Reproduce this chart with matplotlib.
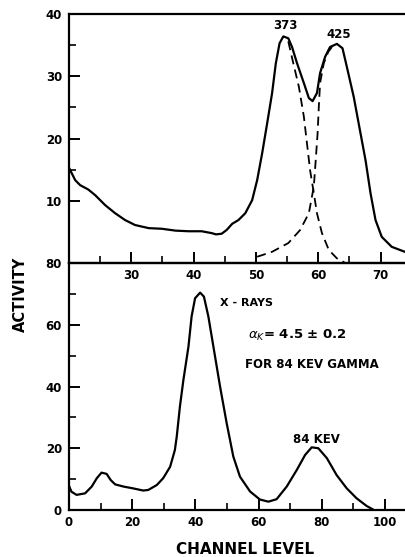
import matplotlib
matplotlib.use("Agg")
import matplotlib.pyplot as plt
from matplotlib.ticker import FixedLocator

# ---- data: upper panel (channels 20-74) ----
top_x = [20.0, 20.2, 21.0, 21.8, 23.1, 24.2, 25.8, 27.4, 29.0, 30.6, 32.8, 34.9, 37.1,
         39.2, 41.3, 42.9, 43.6, 44.5, 45.3, 46.2, 47.2, 48.3, 49.4, 50.2, 51.0, 51.8,
         52.6, 53.2, 53.8, 54.4, 55.2, 55.8, 56.6, 57.7, 58.5, 59.1, 59.8, 60.3, 61.1,
         61.9, 63.0, 63.9, 64.6, 65.7, 66.5, 67.6, 68.4, 69.2, 70.2, 71.8, 73.9, 74.5]
top_y = [15.3, 14.9, 13.3, 12.5, 11.8, 10.9, 9.3, 8.0, 6.9, 6.1, 5.6, 5.5, 5.2,
         5.1, 5.1, 4.8, 4.6, 4.7, 5.3, 6.3, 6.9, 8.0, 10.1, 13.3, 17.6, 22.4,
         27.3, 32.1, 35.3, 36.4, 36.1, 34.7, 32.1, 28.9, 26.5, 26.0, 27.3, 30.5, 33.1,
         34.7, 35.2, 34.5, 31.5, 26.7, 22.4, 16.5, 11.2, 6.9, 4.2, 2.6, 1.8, 1.6]

peak373_x = [55.2, 56.0, 56.9, 57.7, 58.2, 58.7, 59.3, 59.8, 60.6, 61.7, 63.0, 64.2]
peak373_y = [35.6, 32.1, 28.3, 23.5, 19.2, 14.9, 11.2, 8.0, 4.8, 2.1, 0.75, 0.1]

peak425_x = [50.2, 52.6, 55.2, 57.1, 58.5, 59.3, 59.6, 59.9, 60.1, 60.3, 60.9, 61.6, 62.2]
peak425_y = [1.0, 1.8, 3.2, 5.3, 8.0, 12.3, 16.5, 20.8, 25.1, 28.9, 32.1, 33.9, 34.7]

# ---- data: lower panel (channels 0-100) ----
bot_x = [0.0, 0.8, 2.4, 5.1, 7.2, 8.8, 10.3, 11.9, 13.2, 14.6, 17.2, 20.3, 23.5, 25.1,
         27.8, 29.8, 32.0, 33.5, 34.1, 35.1, 36.2, 37.8, 38.8, 39.9, 41.5, 42.7, 44.1,
         45.7, 47.8, 49.9, 52.0, 54.1, 57.3, 60.4, 63.1, 65.7, 68.9, 72.1, 74.7, 76.8,
         78.9, 81.6, 84.7, 87.9, 91.0, 94.2, 96.3]
bot_y = [7.8, 5.9, 4.9, 5.4, 7.6, 10.3, 12.1, 11.7, 9.7, 8.3, 7.6, 7.0, 6.3, 6.5,
         8.1, 10.3, 14.0, 19.4, 23.8, 33.5, 42.1, 52.9, 62.7, 68.6, 70.4, 69.1, 62.7,
         52.9, 40.0, 28.1, 17.3, 10.8, 6.0, 3.4, 2.7, 3.5, 7.6, 13.0, 17.8, 20.3,
         20.0, 16.8, 11.3, 7.0, 3.8, 1.3, 0.1]

top_xmajor = [30, 40, 50, 60, 70]
top_xminor = [25, 35, 45, 55, 65]
top_ymajor = [10, 20, 30, 40]
top_yminor = [15, 25, 35]
bot_xmajor = [0, 20, 40, 60, 80, 100]
bot_xminor = [10, 30, 50, 70, 90]
bot_ymajor = [0, 20, 40, 60, 80]
bot_yminor = [10, 30, 50, 70]

W, H = 406, 557
fig = plt.figure(figsize=(W / 100, H / 100), dpi=100)
plt.rcParams['font.family'] = ['DejaVu Sans']

L = 69
ax_t = fig.add_axes([L / W, (H - 263) / H, (W - L) / W, (263 - 14) / H])
ax_b = fig.add_axes([L / W, (H - 510) / H, (W - L) / W, (510 - 263) / H])

lw = 1.6
ax_t.plot(top_x, top_y, color='black', lw=lw, solid_capstyle='round',
          solid_joinstyle='round')
ax_t.plot(peak373_x, peak373_y, color='black', lw=1.3, dashes=(5, 3))
ax_t.plot(peak425_x, peak425_y, color='black', lw=1.3, dashes=(5, 3))
ax_t.set_xlim(20, 20 + (W - L) / 6.23)
ax_t.set_ylim(0, 40)

ax_b.plot(bot_x, bot_y, color='black', lw=lw, solid_capstyle='round',
          solid_joinstyle='round')
ax_b.set_xlim(0, (W - L) / 3.16)
ax_b.set_ylim(0, 80)

for ax, xM, xm, yM, ym in [(ax_t, top_xmajor, top_xminor, top_ymajor, top_yminor),
                           (ax_b, bot_xmajor, bot_xminor, bot_ymajor, bot_yminor)]:
    ax.xaxis.set_major_locator(FixedLocator(xM))
    ax.xaxis.set_minor_locator(FixedLocator(xm))
    ax.yaxis.set_major_locator(FixedLocator(yM))
    ax.yaxis.set_minor_locator(FixedLocator(ym))
    ax.tick_params(which='major', direction='in', length=8, width=1.4, pad=4,
                   labelsize=8.5)
    ax.tick_params(which='minor', direction='in', length=5, width=1.2)
    ax.tick_params(axis='y', which='major', pad=5)
    for lab in ax.get_xticklabels() + ax.get_yticklabels():
        lab.set_fontweight('bold')
    ax.spines['right'].set_visible(False)
    for s in ['left', 'top', 'bottom']:
        ax.spines[s].set_linewidth(1.6)
    ax.set_facecolor('none')

ax_t.text(54.7, 38.2, '373', ha='center', va='center', fontsize=8.5, fontweight='bold')
ax_t.text(63.3, 36.7, '425', ha='center', va='center', fontsize=8.5, fontweight='bold')

ax_b.text(47.8, 67.1, 'X - RAYS', ha='left', va='center', fontsize=8, fontweight='bold')
ax_b.text(56.7, 56.4, r'$\alpha_K$' + '= 4.5 ± 0.2', ha='left', va='center',
          fontsize=9.5, fontweight='bold')
ax_b.text(55.7, 47.0, 'FOR 84 KEV GAMMA', ha='left', va='center', fontsize=8.5,
          fontweight='bold')
ax_b.text(78.4, 22.9, '84 KEV', ha='center', va='center', fontsize=8.5, fontweight='bold')

fig.text(20 / W, 1 - 294 / H, 'ACTIVITY', rotation=90, ha='center', va='center',
         fontsize=10.5, fontweight='bold')
fig.text(245 / W, 1 - 550 / H, 'CHANNEL LEVEL', ha='center', va='center',
         fontsize=11, fontweight='bold')

fig.savefig('out.png', dpi=100)
